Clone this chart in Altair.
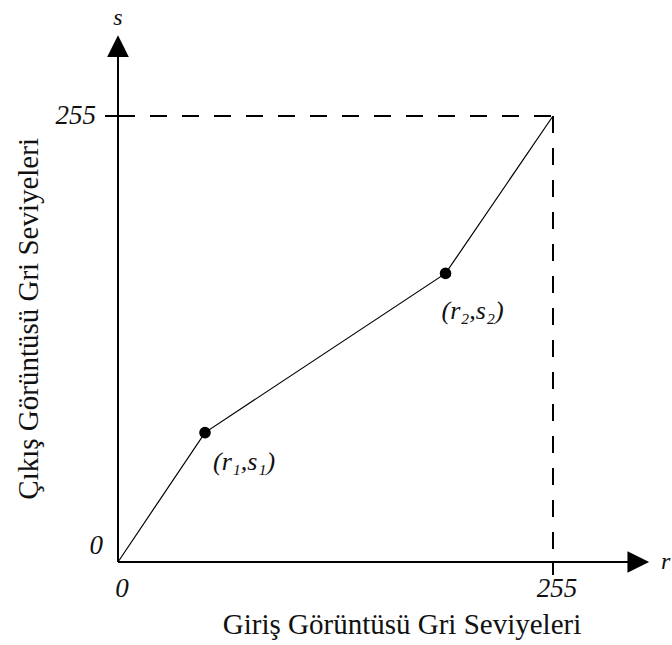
import altair as alt
import pandas as pd

# Piecewise-linear contrast stretching: input grey level r -> output grey level s
r_vals = [0, 51, 192, 255]
s_vals = [0, 74, 165, 255]
bp_labels = ["(r₁,s₁)", "(r₂,s₂)"]

tick_values = [0, 255]
tick_texts = ["0", "255"]

x_title = "Giriş Görüntüsü Gri Seviyeleri"
y_title = "Çıkış Görüntüsü Gri Seviyeleri"
x_sym = "r"
y_sym = "s"

GMAX = 255
FONT = "Liberation Serif"
INK = "#111111"

xs = alt.Scale(domain=[0, GMAX], range=[118, 553])
ys = alt.Scale(domain=[0, GMAX], range=[562, 116])


def X(f="x"):
    return alt.X(f"{f}:Q", scale=xs, axis=None)


def Y(f="y"):
    return alt.Y(f"{f}:Q", scale=ys, axis=None)


# axis extents (data units) past the 255 limit, where the arrow heads sit
x_end, y_end = 300, 290
x_arrow, y_arrow = 305, 295

axes_df = pd.DataFrame({
    "x": [0, 0], "x2": [x_end, 0],
    "y": [0, 0], "y2": [0, y_end],
})
axes = alt.Chart(axes_df).mark_rule(color="black", strokeWidth=2).encode(
    x=X(), x2="x2:Q", y=Y(), y2="y2:Q")

# dashed guides to the (255, 255) corner
guide_df = pd.DataFrame({
    "x": [0, GMAX], "x2": [GMAX, GMAX],
    "y": [GMAX, GMAX], "y2": [GMAX, 0],
})
guides = alt.Chart(guide_df).mark_rule(
    color="black", strokeWidth=2, strokeDash=[17, 15]).encode(
    x=X(), x2="x2:Q", y=Y(), y2="y2:Q")

# short outer ticks at 255 on both axes
tick_df = pd.DataFrame({
    "x": [-7.6, GMAX], "x2": [0, GMAX],
    "y": [GMAX, 0], "y2": [GMAX, -7.4],
})
ticks = alt.Chart(tick_df).mark_rule(color="black", strokeWidth=2).encode(
    x=X(), x2="x2:Q", y=Y(), y2="y2:Q")

arrow_up = alt.Chart(pd.DataFrame({"x": [0], "y": [y_arrow]})).mark_point(
    shape="M0,-1L1,1L-1,1Z", filled=True, color="black", opacity=1, size=470,
    strokeWidth=0).encode(x=X(), y=Y())
arrow_right = alt.Chart(pd.DataFrame({"x": [x_arrow], "y": [0]})).mark_point(
    shape="M1,0L-1,-1L-1,1Z", filled=True, color="black", opacity=1, size=470,
    strokeWidth=0).encode(x=X(), y=Y())

curve_df = pd.DataFrame({"x": r_vals, "y": s_vals})
curve = alt.Chart(curve_df).mark_line(color="black", strokeWidth=1.2).encode(
    x=X(), y=Y())

bp_df = pd.DataFrame({"x": r_vals[1:3], "y": s_vals[1:3], "label": bp_labels})
dots = alt.Chart(bp_df).mark_circle(color="black", opacity=1, size=135).encode(
    x=X(), y=Y())

label_style = dict(font=FONT, fontStyle="italic", fontSize=26, color=INK,
                   align="left", baseline="alphabetic")
lab1 = alt.Chart(bp_df.iloc[[0]]).mark_text(dx=8, dy=37, **label_style).encode(
    x=X(), y=Y(), text="label:N")
lab2 = alt.Chart(bp_df.iloc[[1]]).mark_text(dx=-4, dy=46, **label_style).encode(
    x=X(), y=Y(), text="label:N")

tick_style = dict(font=FONT, fontStyle="italic", fontSize=27, color=INK)
xt_df = pd.DataFrame({"x": tick_values, "y": [0, 0], "t": tick_texts})
x_ticklabels = alt.Chart(xt_df).mark_text(
    align="center", baseline="middle", dx=4, dy=27, **tick_style).encode(
    x=X(), y=Y(), text="t:N")

yt_df = pd.DataFrame({"x": [0, 0], "y": tick_values, "t": tick_texts})
y_tick0 = alt.Chart(yt_df.iloc[[0]]).mark_text(
    align="right", baseline="middle", dx=-15, dy=-16, **tick_style).encode(
    x=X(), y=Y(), text="t:N")
y_tick255 = alt.Chart(yt_df.iloc[[1]]).mark_text(
    align="right", baseline="middle", dx=-22, dy=0, **tick_style).encode(
    x=X(), y=Y(), text="t:N")

sym_style = dict(font=FONT, fontStyle="italic", fontSize=24, color=INK,
                 baseline="middle")
sym_df = pd.DataFrame({"x": [0, 321], "y": [311, 0], "t": [y_sym, x_sym]})
syms = alt.Chart(sym_df).mark_text(align="center", **sym_style).encode(
    x=X(), y=Y(), text="t:N")

title_style = dict(font=FONT, fontSize=29, color=INK, baseline="middle",
                   align="center")
xt = alt.Chart(pd.DataFrame({"x": [166.5], "y": [-36], "t": [x_title]})).mark_text(
    **title_style).encode(x=X(), y=Y(), text="t:N")
yt = alt.Chart(pd.DataFrame({"x": [-52], "y": [139], "t": [y_title]})).mark_text(
    angle=270, **title_style).encode(x=X(), y=Y(), text="t:N")

chart = alt.layer(
    guides, ticks, axes, arrow_up, arrow_right, curve, dots,
    lab1, lab2, x_ticklabels, y_tick0, y_tick255, syms, xt, yt,
).properties(
    width=672, height=645,
    autosize=alt.AutoSizeParams(type="none"),
    padding=0,
    background="white",
).configure_view(stroke=None, clip=False)

chart.save("out.html", embed_options={"renderer": "svg", "actions": False})
